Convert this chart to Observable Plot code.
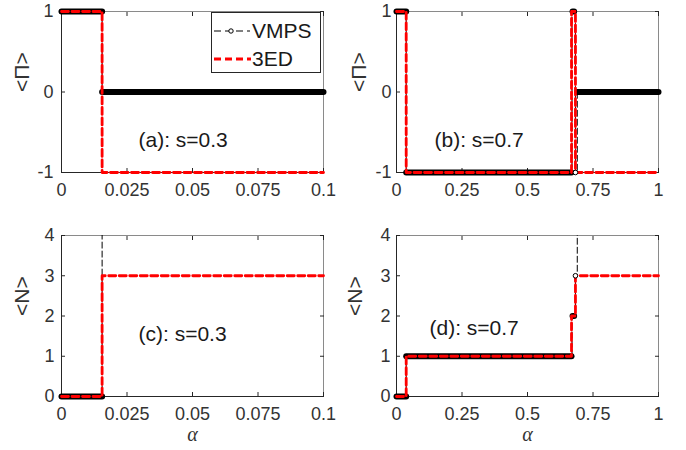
<!DOCTYPE html>
<html>
<head>
<meta charset="utf-8">
<script src="https://cdn.jsdelivr.net/npm/d3@7"></script>
<script src="https://cdn.jsdelivr.net/npm/@observablehq/plot@0.6"></script>
<style>
  html, body { margin: 0; padding: 0; background: #fff; }
  #wrap { position: relative; width: 686px; height: 450px; overflow: hidden; }
  #wrap > svg, #wrap > figure { position: absolute; margin: 0; }
  #legend { position: absolute; left: 211px; top: 12px; width: 110px; height: 61px;
            border: 1px solid #262626; background: #fff; box-sizing: border-box; }
</style>
</head>
<body>
<div id="wrap"></div>
<script>
// ---------------- data ----------------
// panel (a): s = 0.3, <Π>
const aVmpsAlpha = [0, 0.0155, 0.1];
const aVmpsPi    = [1, 0, 0];
const a3edAlpha  = [0, 0.0155, 0.1];
const a3edPi     = [1, -1, -1];
const aRunStart  = [0, 0.0155];      // dense VMPS marker runs
const aRunEnd    = [0.0155, 0.1];
const aRunPi     = [1, 0];

// panel (b): s = 0.7, <Π>
const bVmpsAlpha = [0, 0.037, 0.670, 0.683, 0.690, 1];
const bVmpsPi    = [1, -1, 1, -1, 0, 0];
const b3edAlpha  = [0, 0.037, 0.668, 0.683, 1];
const b3edPi     = [1, -1, 1, -1, -1];
const bRunStart  = [0, 0.037, 0.672, 0.690];
const bRunEnd    = [0.037, 0.668, 0.678, 1];
const bRunPi     = [1, -1, 1, 0];
const bDotAlpha  = [0.683];
const bDotPi     = [-1];

// panel (c): s = 0.3, <N>   (VMPS goes off scale above 4)
const cVmpsAlpha = [0, 0.0155, 0.1];
const cVmpsN     = [0, 6, 6];
const c3edAlpha  = [0, 0.0155, 0.1];
const c3edN      = [0, 3, 3];
const cRunStart  = [0];
const cRunEnd    = [0.0155];
const cRunN      = [0];

// panel (d): s = 0.7, <N>
const dVmpsAlpha = [0, 0.037, 0.670, 0.683, 0.690, 1];
const dVmpsN     = [0, 1, 2, 3, 6, 6];
const d3edAlpha  = [0, 0.037, 0.668, 0.683, 1];
const d3edN      = [0, 1, 2, 3, 3];
const dRunStart  = [0, 0.037, 0.672];
const dRunEnd    = [0.037, 0.668, 0.678];
const dRunN      = [0, 1, 2];
const dDotAlpha  = [0.683];
const dDotN      = [3];

const xTicksSmall = [0, 0.025, 0.05, 0.075, 0.1];
const xTicksLarge = [0, 0.25, 0.5, 0.75, 1];
const yTicksPi = [-1, 0, 1];
const yTicksN  = [0, 1, 2, 3, 4];

const panelLabels = ["(a): s=0.3", "(b): s=0.7", "(c): s=0.3", "(d): s=0.7"];
const yLabelPi = "<Π>";
const yLabelN = "<N>";
const xLabel = "α";
const legendLabels = ["VMPS", "3ED"];

// ---------------- helpers ----------------
const pts = (xs, ys) => xs.map((x, i) => ({x, y: ys[i]}));
const runs = (s, e, v) => s.map((x1, i) => ({x1, x2: e[i], y: v[i]}));
const FONT = "Liberation Sans, Arial, Helvetica, sans-serif";
const fmt = d => String(d);

function panel(o) {
  const marks = [
    Plot.frame({stroke: "#8a8a8a", strokeWidth: 1}),
    Plot.ruleX([o.xDomain[0]], {stroke: "#262626"}),
    Plot.ruleY([o.yDomain[0]], {stroke: "#262626"}),
    // inward ticks on all sides
    Plot.axisX(o.xTicks, {anchor: "bottom", tickSize: -4, tickFormat: () => "", label: null, stroke: "#262626"}),
    Plot.axisX(o.xTicks, {anchor: "top", tickSize: -4, tickFormat: () => "", label: null, stroke: "#262626"}),
    Plot.axisY(o.yTicks, {anchor: "left", tickSize: -4, tickFormat: () => "", label: null, stroke: "#262626"}),
    Plot.axisY(o.yTicks, {anchor: "right", tickSize: -4, tickFormat: () => "", label: null, stroke: "#262626"}),
    // tick labels
    Plot.axisX(o.xTicks, {anchor: "bottom", tickSize: 0, tickPadding: 11, tickFormat: fmt, label: null, fill: "#333", fontSize: 18}),
    Plot.axisY(o.yTicks, {anchor: "left", tickSize: 0, tickPadding: o.yPad, tickFormat: fmt, label: null, fill: "#333", fontSize: 18}),
    // y label
    Plot.text([o.yLabel], {frameAnchor: "left", dx: -o.yLabelOff, rotate: -90, fontSize: 21, fill: "#333", text: d => d}),
    // VMPS dashed connecting line
    Plot.line(o.vmps, {x: "x", y: "y", curve: "step-after", stroke: "#000", strokeWidth: 1, strokeDasharray: "6,3", clip: true}),
    // dense VMPS markers
    Plot.link(o.runs, {x1: "x1", x2: "x2", y1: "y", y2: "y", stroke: "#000", strokeWidth: 6, strokeLinecap: "round"}),
    // 3ED red dashed
    Plot.line(o.ed, {x: "x", y: "y", curve: "step-after", stroke: "#ff0000", strokeWidth: 2.8, strokeDasharray: "7,3.5"}),
  ];
  if (o.dots) marks.push(Plot.dot(o.dots, {x: "x", y: "y", r: 2.3, fill: "#fff", stroke: "#000", strokeWidth: 1}));
  marks.push(Plot.text([o.label], {frameAnchor: "top-left", textAnchor: "start", lineAnchor: "bottom",
    dx: o.labelDx, dy: o.labelDy, fontSize: 21, fill: "#1a1a1a", text: d => d}));
  if (o.xLabel) marks.push(Plot.text([o.xLabel], {frameAnchor: "bottom", dy: 44, fontSize: 20,
    fontFamily: "Liberation Serif, Times New Roman, serif", fontStyle: "italic", fill: "#333", text: d => d}));
  const svg = Plot.plot({
    width: 343, height: 225,
    marginLeft: o.ml, marginRight: o.mr, marginTop: o.mt, marginBottom: o.mb,
    x: {domain: o.xDomain}, y: {domain: o.yDomain},
    style: {fontFamily: FONT, fontSize: "18px", color: "#262626", background: "transparent", overflow: "visible"},
    marks
  });
  svg.style.left = o.left + "px";
  svg.style.top = o.top + "px";
  return svg;
}

const wrap = document.getElementById("wrap");
wrap.appendChild(panel({
  left: 0, top: 0, ml: 61, mr: 20, mt: 11, mb: 53,
  xDomain: [0, 0.1], yDomain: [-1, 1], xTicks: xTicksSmall, yTicks: yTicksPi, yPad: 8,
  yLabel: yLabelPi, yLabelOff: 39,
  vmps: pts(aVmpsAlpha, aVmpsPi), ed: pts(a3edAlpha, a3edPi), runs: runs(aRunStart, aRunEnd, aRunPi),
  label: panelLabels[0], labelDx: 77, labelDy: 135
}));
wrap.appendChild(panel({
  left: 343, top: 0, ml: 53, mr: 28, mt: 11, mb: 53,
  xDomain: [0, 1], yDomain: [-1, 1], xTicks: xTicksLarge, yTicks: yTicksPi, yPad: 5,
  yLabel: yLabelPi, yLabelOff: 37,
  vmps: pts(bVmpsAlpha, bVmpsPi), ed: pts(b3edAlpha, b3edPi), runs: runs(bRunStart, bRunEnd, bRunPi),
  dots: pts(bDotAlpha, bDotPi),
  label: panelLabels[1], labelDx: 38, labelDy: 135
}));
wrap.appendChild(panel({
  left: 0, top: 225, ml: 61, mr: 20, mt: 10, mb: 54,
  xDomain: [0, 0.1], yDomain: [0, 4], xTicks: xTicksSmall, yTicks: yTicksN, yPad: 7,
  yLabel: yLabelN, yLabelOff: 39,
  vmps: pts(cVmpsAlpha, cVmpsN), ed: pts(c3edAlpha, c3edN), runs: runs(cRunStart, cRunEnd, cRunN),
  label: panelLabels[2], labelDx: 77, labelDy: 105, xLabel
}));
wrap.appendChild(panel({
  left: 343, top: 225, ml: 53, mr: 28, mt: 10, mb: 54,
  xDomain: [0, 1], yDomain: [0, 4], xTicks: xTicksLarge, yTicks: yTicksN, yPad: 6,
  yLabel: yLabelN, yLabelOff: 41,
  vmps: pts(dVmpsAlpha, dVmpsN), ed: pts(d3edAlpha, d3edN), runs: runs(dRunStart, dRunEnd, dRunN),
  dots: pts(dDotAlpha, dDotN),
  label: panelLabels[3], labelDx: 33, labelDy: 99, xLabel
}));

// legend (inside panel a)
const ns = "http://www.w3.org/2000/svg";
const leg = document.createElement("div");
leg.id = "legend";
const ls = document.createElementNS(ns, "svg");
ls.setAttribute("width", 108); ls.setAttribute("height", 59);
ls.style.position = "absolute"; ls.style.left = "0px"; ls.style.top = "0px";
const el = (tag, attrs) => { const e = document.createElementNS(ns, tag); for (const k in attrs) e.setAttribute(k, attrs[k]); ls.appendChild(e); return e; };
el("line", {x1: 2, x2: 38, y1: 18, y2: 18, stroke: "#000", "stroke-width": 1, "stroke-dasharray": "7,4"});
el("circle", {cx: 19, cy: 18, r: 2.2, fill: "#fff", stroke: "#000"});
el("line", {x1: 2, x2: 39, y1: 46, y2: 46, stroke: "#ff0000", "stroke-width": 2.8, "stroke-dasharray": "7,4"});
const t1 = el("text", {x: 40, y: 25, "font-size": 21, "font-family": FONT, fill: "#1a1a1a"}); t1.textContent = legendLabels[0];
const t2 = el("text", {x: 40, y: 53, "font-size": 21, "font-family": FONT, fill: "#1a1a1a"}); t2.textContent = legendLabels[1];
leg.appendChild(ls);
wrap.appendChild(leg);
</script>
</body>
</html>
